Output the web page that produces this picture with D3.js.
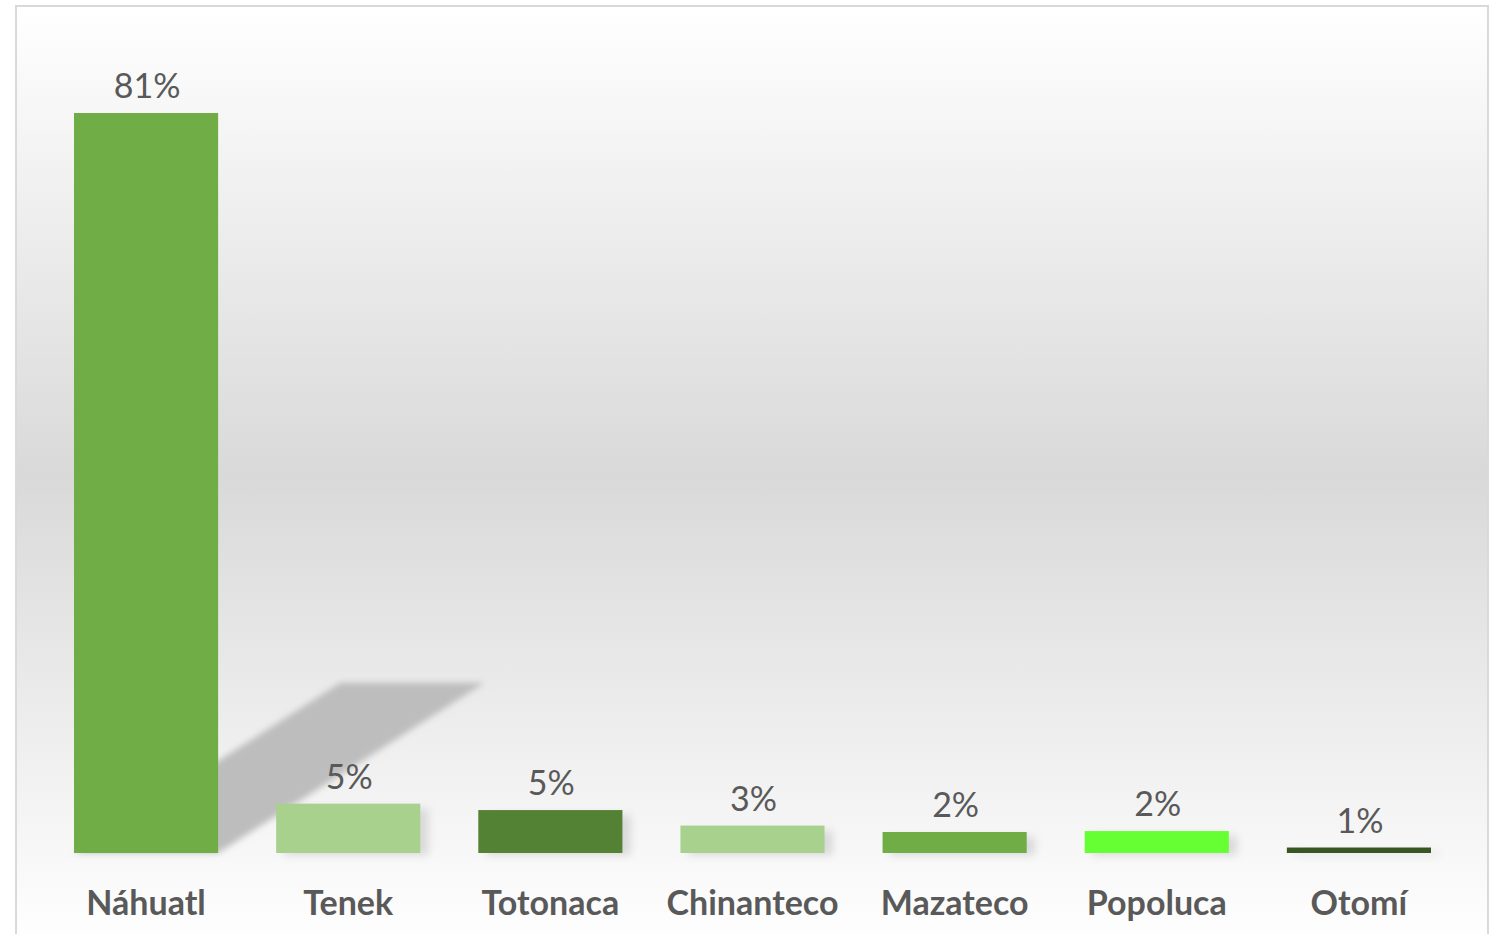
<!DOCTYPE html>
<html>
<head>
<meta charset="utf-8">
<script src="https://cdn.jsdelivr.net/npm/d3@7"></script>
<style>
  body { margin: 0; background: #fff; }
  svg { display: block; }
  .val { font-family: Lato, "Open Sans", sans-serif; font-size: 34px; fill: #595959; }
  .cat { font-family: Lato, "Open Sans", sans-serif; font-size: 34px; font-weight: bold; fill: #595959; }
</style>
</head>
<body>
<svg id="chart" width="1496" height="934"></svg>
<script>
// lenguas indigenas, share of speakers (%)
var categories = ["Náhuatl", "Tenek", "Totonaca", "Chinanteco", "Mazateco", "Popoluca", "Otomí"];
var values = [81, 5.4, 4.7, 3.0, 2.3, 2.4, 0.6];
var labels = ["81%", "5%", "5%", "3%", "2%", "2%", "1%"];
var colors = ["#70ad47", "#a9d18e", "#548235", "#a9d18e", "#70ad47", "#66ff33", "#375623"];

var width = 1496, height = 934;
var svg = d3.select("#chart");

var defs = svg.append("defs");
var grad = defs.append("linearGradient")
    .attr("id", "bg").attr("x1", 0).attr("y1", 0).attr("x2", 0).attr("y2", 1);
grad.append("stop").attr("offset", "0%").attr("stop-color", "#ffffff");
grad.append("stop").attr("offset", "50%").attr("stop-color", "#d9d9d9");
grad.append("stop").attr("offset", "100%").attr("stop-color", "#ffffff");

defs.append("filter").attr("id", "blur")
    .attr("x", "-20%").attr("y", "-20%").attr("width", "140%").attr("height", "140%")
  .append("feGaussianBlur").attr("stdDeviation", 3);
defs.append("filter").attr("id", "soft")
    .attr("x", "-20%").attr("y", "-50%").attr("width", "140%").attr("height", "200%")
  .append("feGaussianBlur").attr("stdDeviation", 4);

// chart area frame
svg.append("rect")
    .attr("x", 16).attr("y", 6)
    .attr("width", 1472).attr("height", 940)
    .attr("fill", "url(#bg)")
    .attr("stroke", "#d9d9d9").attr("stroke-width", 2);

var x = d3.scaleBand()
    .domain(categories)
    .range([45, 1460])
    .paddingInner(0.287)
    .paddingOuter(0.1435);

var y = d3.scaleLinear()
    .domain([0, 81])
    .range([853, 113]);

var data = categories.map(function(c, i) {
    return {cat: c, value: values[i], label: labels[i], color: colors[i]};
});

// perspective shadow behind the tallest bar
var shear = 1.565, shadowFrac = 0.23;
var shadows = svg.append("g").attr("filter", "url(#blur)");
shadows.selectAll("path")
    .data(data.filter(function(d) { return d.value > 50; }))
    .enter().append("path")
    .attr("fill", "#bdbdbd")
    .attr("d", function(d) {
        var x0 = x(d.cat), w = x.bandwidth(), b = y(0);
        var h = (y(0) - y(d.value)) * shadowFrac;
        return "M" + x0 + "," + b + "L" + (x0 + w) + "," + b +
            "L" + (x0 + w + h * shear) + "," + (b - h) +
            "L" + (x0 + h * shear) + "," + (b - h) + "Z";
    });

// small soft shadows to the right of the short bars
svg.append("g").attr("filter", "url(#soft)")
  .selectAll("rect")
    .data(data.filter(function(d) { return d.value < 50; }))
    .enter().append("rect")
    .attr("x", function(d) { return x(d.cat) + 8; })
    .attr("y", function(d) { return y(d.value) + 5; })
    .attr("width", x.bandwidth())
    .attr("height", function(d) { return Math.max(y(0) - y(d.value) - 3, 2); })
    .attr("fill", "#d8d8d8");

svg.append("g").selectAll("rect")
    .data(data)
    .enter().append("rect")
    .attr("x", function(d) { return x(d.cat); })
    .attr("y", function(d) { return y(d.value); })
    .attr("width", x.bandwidth())
    .attr("height", function(d) { return y(0) - y(d.value); })
    .attr("fill", function(d) { return d.color; });

svg.append("g").selectAll("text")
    .data(data)
    .enter().append("text")
    .attr("class", "val")
    .attr("text-anchor", "middle")
    .attr("x", function(d) { return x(d.cat) + x.bandwidth() / 2 + 1; })
    .attr("y", function(d) { return y(d.value) - 15; })
    .text(function(d) { return d.label; });

var xAxis = d3.axisBottom(x).tickSize(0).tickPadding(0);
var ax = svg.append("g")
    .attr("transform", "translate(0,915)")
    .call(xAxis);
ax.select(".domain").remove();
ax.selectAll("text")
    .attr("class", "cat")
    .attr("dy", 0)
    .attr("fill", null);
</script>
</body>
</html>
